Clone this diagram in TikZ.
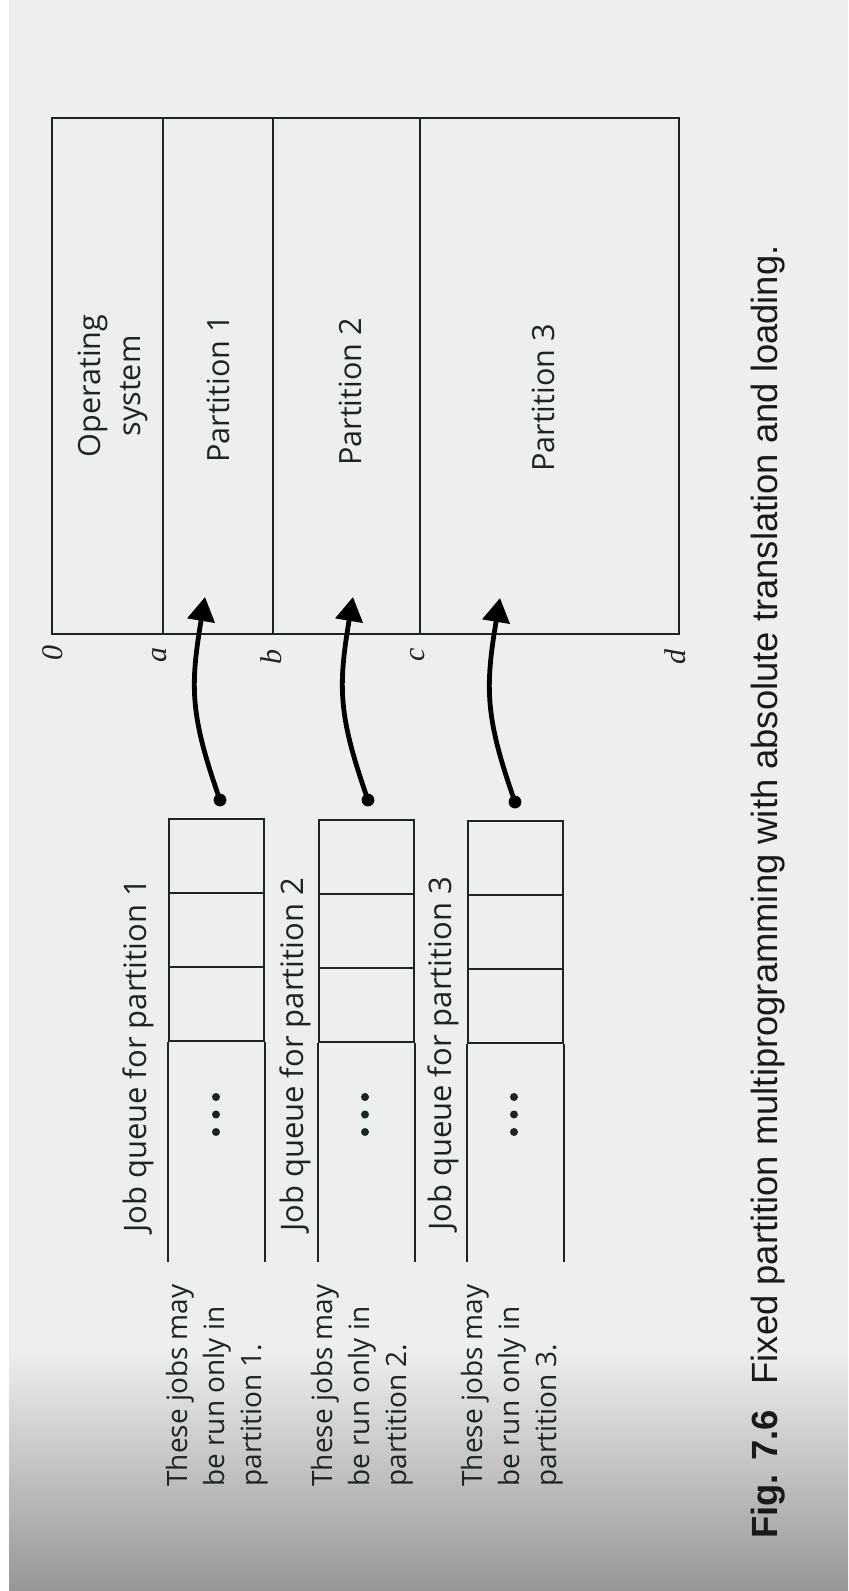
\documentclass[tikz,border=0pt]{standalone}
\usepackage{fontspec}
\newfontfamily\diagfont{Open Sans}
\newfontfamily\capfont{Liberation Sans}
\newfontfamily\letfont{Liberation Serif}
\usetikzlibrary{arrows.meta}
\definecolor{paper}{RGB}{237,238,238}
\definecolor{ink}{RGB}{28,36,36}
\definecolor{shadow}{RGB}{150,150,150}
\begin{document}
\begin{tikzpicture}[x=0.5pt,y=-0.5pt,
  ln/.style={draw=ink, line width=1pt},
  region/.style={ln, minimum height=258pt, inner sep=0pt},
  cell/.style={ln, minimum width=47.5pt, minimum height=37pt, inner sep=0pt},
  rlabel/.style={rotate=90, font=\diagfont\fontsize{15.3}{20}\selectfont, text=ink, align=center, inner sep=0pt},
  qlabel/.style={rotate=90, font=\diagfont\fontsize{15.5}{18}\selectfont, text=ink, inner sep=0pt},
  note/.style={rotate=90, anchor=west, align=left, font=\diagfont\fontsize{14}{18.5}\selectfont, text=ink, inner sep=0pt},
  addr/.style={rotate=90, font=\letfont\itshape\fontsize{15}{18}\selectfont, text=ink, inner sep=0pt},
  conn/.style={draw=black, line width=2.4pt, -{Triangle[length=12pt,width=13.5pt]}},
  dotfill/.style={fill=black},
  qdot/.style={fill=ink},
]
% background
\useasboundingbox (0,0) rectangle (848,1591);
\fill[paper] (0,0) rectangle (848,1591);
\shade[top color=paper, bottom color=shadow] (0,1350) rectangle (848,1591);
\fill[white] (0,0) rectangle (9,1591);

% memory
\node[region, minimum width=55.5pt] (os) at (107.5,376) {};
\node[region, minimum width=55pt] (p1) at (218,376) {};
\node[region, minimum width=73.5pt] (p2) at (346.5,376) {};
\node[region, minimum width=129.5pt] (p3) at (549.5,376) {};

\node[rlabel] (ost) at (113,386) {Operating\\system};
\node[rlabel] (p1t) at (218,389) {Partition 1};
\node[rlabel] (p2t) at (350,392) {Partition 2};
\node[rlabel] (p3t) at (543,398) {Partition 3};

\node[addr] (l0) at (53,653) {0};
\node[addr] (la) at (160,655) {a};
\node[addr] (lb) at (271,657) {b};
\node[addr] (lc) at (418,655) {c};
\node[addr] (ld) at (675,657) {d};

% queues
\coordinate (qend) at (0,1262);
\node[cell] (q1c1) at (216.5,856) {};
\node[cell] (q1c2) at (216.5,930) {};
\node[cell] (q1c3) at (216.5,1004) {};
\node[cell] (q2c1) at (366,857) {};
\node[cell] (q2c2) at (366,931) {};
\node[cell] (q2c3) at (366,1005) {};
\node[cell] (q3c1) at (515,858) {};
\node[cell] (q3c2) at (515,932) {};
\node[cell] (q3c3) at (515,1006) {};
\foreach \q in {q1,q2,q3}{
  \draw[ln] (\q c3.south west) -- (\q c3.south west |- qend);
  \draw[ln] (\q c3.south east) -- (\q c3.south east |- qend);
}
\foreach \x in {216,365,514}{
  \foreach \y in {1097,1114.5,1132}{
    \fill[qdot] (\x,\y) circle[radius=2pt];
  }
}

\node[qlabel] (q1l) at (138,1056) {Job queue for partition 1};
\node[qlabel] (q2l) at (295,1055) {Job queue for partition 2};
\node[qlabel] (q3l) at (443,1054) {Job queue for partition 3};

\node[note] (n1) at (217,1487) {These jobs may\\be run only in\\partition 1.};
\node[note] (n2) at (362,1487) {These jobs may\\be run only in\\partition 2.};
\node[note] (n3) at (512,1487) {These jobs may\\be run only in\\partition 3.};

% arrows
\coordinate (d1) at (220,800);
\coordinate (t1) at (205,597);
\coordinate (d2) at (368,800);
\coordinate (t2) at (353,597);
\coordinate (d3) at (515,802);
\coordinate (t3) at (500,598);
\foreach \i in {1,2,3}{
  \draw[conn] (d\i) .. controls +(-30,-85) and +(-15,90) .. (t\i);
  \fill[dotfill] (d\i) circle[radius=3.2pt];
}

% caption
\node[rotate=90, anchor=west, font=\capfont\fontsize{18.2}{20}\selectfont, text=black!90, inner sep=0pt] (cap) at (768,1539)
  {\textbf{Fig. 7.6}\hspace{0.7em}Fixed partition multiprogramming with absolute translation and loading.};
\end{tikzpicture}
\end{document}
